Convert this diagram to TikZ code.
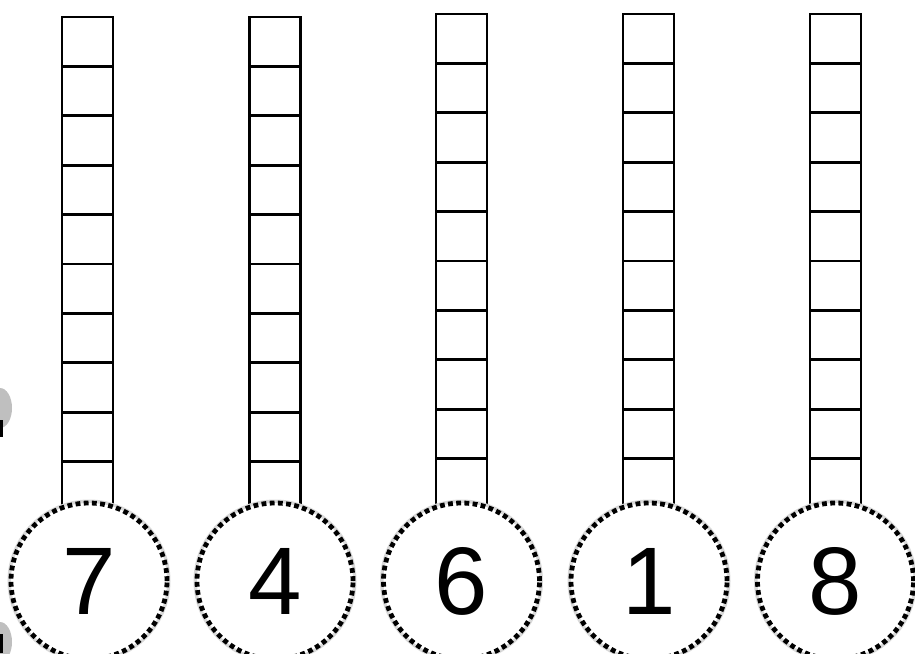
\documentclass[tikz,border=0pt]{standalone}
\usepackage{fontspec}
\setmainfont{Liberation Sans}
\begin{document}
\begin{tikzpicture}[x=1pt,y=-1pt,
  cellbox/.style={draw, line width=2.8pt},
  digit/.style={circle, minimum size=156pt, inner sep=0pt, fill=white,
    draw, line width=4.8pt, dash pattern=on 4.8pt off 3.4pt,
    font=\fontsize{96}{96}\selectfont},
  halo/.style={draw=black!15, line width=7pt, circle, minimum size=156pt, inner sep=0pt}]
\useasboundingbox (0,0) rectangle (915,653);
% faint cut-off marks on the left edge
\fill[black!25] (0,408) ellipse (12 and 20);
\fill[black!25] (0,642) ellipse (12 and 20);
\fill[black] (0,420) rectangle (2.5,437);
\fill[black] (0,634) rectangle (2.5,653);
% columns
\foreach \cx/\top in {87.5/17, 275/17, 461.5/14, 648.5/14, 835.5/14}{
  \foreach \k in {0,...,9}{
    \draw[cellbox] (\cx-25.5,\top+49.4*\k) rectangle (\cx+25.5,\top+49.4*\k+49.4);
  }
}
% circles with digits
\foreach \name/\cx/\d in {a/89/7, b/275/4, c/461.5/6, d/649/1, e/835.5/8}{
  \node[halo] at (\cx,581) {};
  \node[digit] (\name) at (\cx,581) {\d};
}
\end{tikzpicture}
\end{document}
